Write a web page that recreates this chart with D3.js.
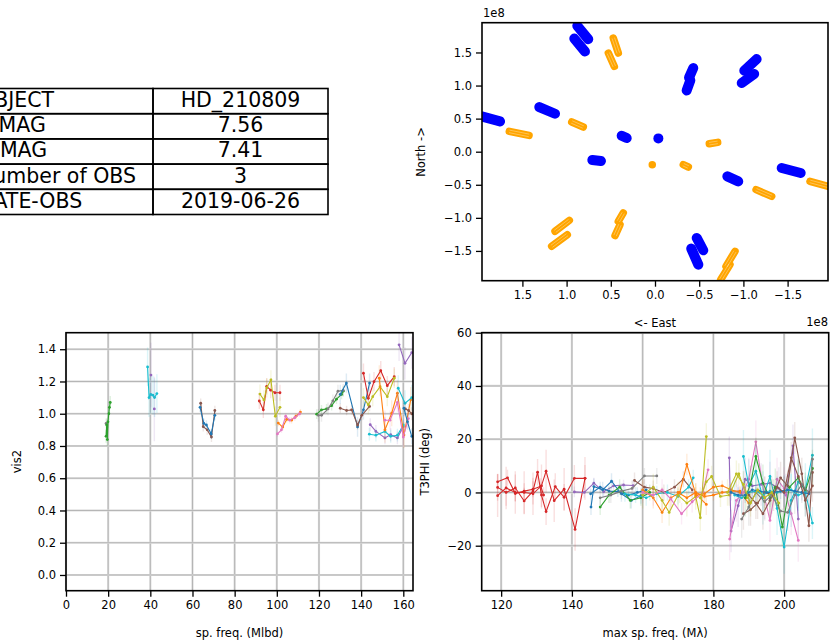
<!DOCTYPE html>
<html><head><meta charset="utf-8">
<script src="https://cdn.jsdelivr.net/npm/d3@7"></script>
<style>
body{margin:0;background:#fff}
svg{display:block}
text{font-family:"DejaVu Sans",sans-serif;fill:#000}
</style>
</head><body>
<svg id="c" width="832" height="643"></svg>
<script>
// ---------------- DATA ----------------
const tableLabels = ["OBJECT", "V MAG", "H MAG", "Number of OBS", "DATE-OBS"];
const tableValues = ["HD_210809", "7.56", "7.41", "3", "2019-06-26"];

// UV tracks (units of 1e8): [u start, v start, u end, v end]
const uvBlue = [
  [0.879, 1.903, 0.755, 1.700], [0.913, 1.710, 0.792, 1.515],
  [-0.433, 1.264, -0.385, 1.120], [-0.400, 1.080, -0.358, 0.926],
  [-1.150, 1.400, -1.010, 1.225], [-1.122, 1.175, -0.981, 1.038],
  [1.960, 0.533, 1.753, 0.458], [1.309, 0.675, 1.131, 0.574],
  [0.377, 0.242, 0.320, 0.206], [-0.038, 0.201, -0.038, 0.201],
  [0.709, -0.126, 0.611, -0.141], [-0.818, -0.373, -0.942, -0.449],
  [-1.433, -0.246, -1.648, -0.322],
  [-0.472, -1.304, -0.546, -1.490], [-0.410, -1.465, -0.490, -1.707]
];
const uvOrange = [
  [0.472, 1.718, 0.415, 1.491], [0.528, 1.491, 0.460, 1.289],
  [1.648, 0.307, 1.425, 0.246], [0.942, 0.449, 0.811, 0.373],
  [0.031, -0.196, 0.031, -0.196], [-0.320, -0.196, -0.377, -0.231],
  [-0.614, 0.121, -0.709, 0.141], [-1.143, -0.574, -1.320, -0.675],
  [-1.753, -0.449, -1.960, -0.524],
  [0.359, -0.926, 0.415, -1.053], [0.396, -1.103, 0.452, -1.269],
  [0.969, -1.038, 1.131, -1.204], [0.992, -1.254, 1.169, -1.430],
  [-0.905, -1.506, -0.803, -1.733], [-0.848, -1.707, -0.743, -1.934]
];
const uvTicks = [1.5, 1.0, 0.5, 0.0, -0.5, -1.0, -1.5];

// vis2 vs spatial frequency (Mlbd): colour index (tab10), error, points [freq, vis2]
const vis2Series = [
  {c: 7, err: 0.03, pts: [[19.0, 0.94]]},
  {c: 2, err: 0.04, pts: [[19.0, 0.86], [19.3, 0.93], [19.6, 0.84], [19.9, 0.95], [20.3, 1.0], [20.6, 1.04], [21.0, 1.07]]},
  {c: 9, err: 0.12, pts: [[38.7, 1.29], [39.4, 1.10], [40.2, 1.12], [41.2, 1.115], [42.0, 1.10], [43.1, 1.125]]},
  {c: 4, err: 0.2, pts: [[40.3, 1.24]]},
  {c: 4, err: 0.2, pts: [[41.9, 1.03]]},
  {c: 5, err: 0.03, pts: [[63.9, 1.065], [65.1, 0.92], [67.0, 0.90], [69.0, 0.855], [70.6, 1.02]]},
  {c: 0, err: 0.03, pts: [[63.6, 1.04], [65.4, 0.94], [66.6, 0.93], [68.9, 0.875], [70.6, 0.99]]},
  {c: 3, err: 0.05, pts: [[91.7, 1.079], [93.6, 1.024], [95.2, 1.17], [97.1, 1.146], [99.1, 1.13], [101.5, 1.13]]},
  {c: 8, err: 0.06, pts: [[92.0, 1.122], [93.9, 1.085], [95.2, 1.16], [97.2, 1.21], [99.3, 0.985], [101.5, 1.04]]},
  {c: 1, err: 0.02, pts: [[100.7, 0.942], [102.8, 0.917], [104.7, 0.965], [107.0, 0.96], [109.1, 0.985], [111.2, 1.01]]},
  {c: 6, err: 0.02, pts: [[100.3, 0.875], [102.2, 0.90], [104.2, 0.985], [106.1, 0.96], [108.5, 0.975], [110.8, 1.0]]},
  {c: 2, err: 0.03, pts: [[118.9, 0.997], [121.2, 1.024], [123.6, 1.03], [126.0, 1.05], [128.3, 1.09], [130.7, 1.12], [131.5, 1.14]]},
  {c: 7, err: 0.04, pts: [[119.7, 0.99], [121.2, 0.99], [124.3, 1.03], [126.6, 1.08], [129.0, 1.14], [131.5, 1.145]]},
  {c: 0, err: 0.06, pts: [[130.1, 1.12], [133.0, 1.19], [138.3, 0.918], [141.1, 1.024], [144.0, 1.19]]},
  {c: 5, err: 0.03, pts: [[130.1, 1.034], [133.1, 1.02], [135.5, 1.024], [138.3, 0.93], [140.3, 0.99], [144.0, 1.045]]},
  {c: 3, err: 0.06, pts: [[141.1, 1.251], [143.4, 1.096], [146.1, 1.199], [149.3, 1.267], [152.4, 1.174], [155.7, 1.23]]},
  {c: 8, err: 0.06, pts: [[141.1, 1.1], [143.4, 1.055], [145.5, 1.106], [149.0, 1.168], [152.4, 1.106], [155.7, 1.22]]},
  {c: 4, err: 0.04, pts: [[144.3, 0.932], [147.0, 0.89], [151.3, 0.85], [154.0, 0.87], [157.2, 0.85], [160.0, 0.92]]},
  {c: 9, err: 0.04, pts: [[143.9, 0.873], [147.0, 0.867], [151.3, 0.89], [154.0, 0.86], [157.2, 0.867], [160.0, 0.93]]},
  {c: 1, err: 0.08, pts: [[148.6, 1.22], [151.3, 0.90], [154.5, 1.003], [157.2, 1.127], [160.3, 0.868], [163.5, 1.086]]},
  {c: 6, err: 0.06, pts: [[151.3, 0.96], [153.7, 0.96], [157.2, 1.07], [160.0, 0.855], [162.4, 0.97]]},
  {c: 4, err: 0.1, pts: [[158.0, 1.427], [160.8, 1.313], [164.0, 1.379]]},
  {c: 9, err: 0.08, pts: [[157.6, 1.158], [160.8, 1.065], [164.0, 1.10]]},
  {c: 5, err: 0.04, pts: [[161.0, 1.03], [162.5, 1.02], [164.0, 1.0]]},
  {c: 0, err: 0.05, pts: [[160.3, 1.034], [162.0, 0.95], [164.0, 0.86]]}
];
const vis2XTicks = [0, 20, 40, 60, 80, 100, 120, 140, 160];
const vis2YTicks = [0.0, 0.2, 0.4, 0.6, 0.8, 1.0, 1.2, 1.4];

// closure phase vs max spatial frequency (Mlambda): colour index, error, points [freq, deg]
const t3Series = [
  {c: 3, err: 3, pts: [[119, 4], [121.8, 5.5], [124, -0.4], [126.5, 0.5], [129, 1.2], [131.2, 2.3], [132, -1]]},
  {c: 3, err: 5, pts: [[119, 1.9], [121.4, 0], [124, 1.7], [126.5, -3.2], [129, 0.5], [130.3, 7.6], [131.4, -1], [132.7, -7.2], [135.3, 2.2], [137.8, -1.8], [140.7, 5.3], [143.7, 5.3]]},
  {c: 3, err: 8, pts: [[119, -1.2], [121.4, 1.7], [124, 0], [126.5, 0], [129, -0.5], [131.4, 2.5], [132.7, 8.0], [135, -3.1], [137.8, 1.2], [140.9, -13.9], [143.7, 5.3]]},
  {c: 4, err: 2, pts: [[140.7, 0.2], [143.5, 0], [146.2, 3.5], [149, 0.3], [151.8, 2.5], [154.6, 2.8], [157.3, 2.6]]},
  {c: 0, err: 3, pts: [[145.4, -5.5], [146.2, 2.2], [148.7, 1.0], [151.2, 4.2], [154, -0.5], [156.8, -3.0], [159.5, -1.2]]},
  {c: 0, err: 2, pts: [[145.3, -0.5], [148, 2], [150.5, 0.5], [153, 0.3], [156, -1], [158.5, 0], [161, 1]]},
  {c: 2, err: 3, pts: [[148, -5.5], [150.5, -1], [153.5, 2], [156.5, -3], [159.5, -2], [162, 0]]},
  {c: 7, err: 3, pts: [[148, -2], [151, -1], [154, 0.5], [157, 1.5], [160.5, 6.2], [164, 6.2]]},
  {c: 5, err: 3, pts: [[157.7, 4.5], [160.5, 2], [163, 1.5], [166, 0], [169, 2], [171.5, 5], [174, 1]]},
  {c: 9, err: 3, pts: [[155, -0.5], [158, -1], [161, -2], [164, -0.5], [167, 0], [170, -1.5], [173, 2], [174.3, 5.5]]},
  {c: 1, err: 4, pts: [[160, 1], [163, -2], [165.5, -7.5], [168, -2], [170.5, 0], [172.5, 10.5], [175, -0.5], [178, -4.5]]},
  {c: 8, err: 5, pts: [[160, -1], [163, 2], [165.5, -3], [167.5, -7.5], [170, -1], [172.5, -4], [175, -1.5], [176.3, -9.5], [178, 21]]},
  {c: 6, err: 4, pts: [[160, 0], [163, -1], [165.5, 1], [168, -2.5], [171, -8], [174, -3.5], [177, 0], [178.5, 8.5]]},
  {c: 1, err: 2, pts: [[170, 0], [172.5, -2], [175, 0], [177.5, -1.5], [180, -1], [182.5, 0], [185, 0.5], [187.5, 0.5]]},
  {c: 1, err: 2, pts: [[175, -1], [177.5, -0.5], [180, 2], [182.5, 2.5], [185, 1], [187.5, 0], [190, -4]]},
  {c: 8, err: 4, pts: [[176.3, -2], [178, 4], [179.5, 6], [182, -1.5], [184.5, -1], [187.2, 7], [189.5, -2]]},
  {c: 4, err: 8, pts: [[184.5, 13], [185, -14.5], [187, -5], [189, 5], [191, 2.5], [193.5, 3], [196, 3.5], [198.5, 1.5], [200.5, -1], [202.5, 17.5], [204, -10]]},
  {c: 6, err: 8, pts: [[184.6, -17.5], [186.5, -3], [188.5, 0], [190, 5], [192, 19], [194.5, -2], [196, -10.5], [198, 5], [200, 1.5], [202, -8], [204, -18]]},
  {c: 9, err: 10, pts: [[188.5, 13.5], [190, 2.5], [192, 8], [194, -2], [196, 6], [198, -6], [200, -20.5], [202, -3], [204, 4], [206, 1], [208, 14]]},
  {c: 2, err: 7, pts: [[189, -2], [190.5, 3], [192, 13.5], [194, 3.5], [196, -2], [197.5, 2], [199.5, -13], [201.5, 2], [204, 5.5], [206, 0.5], [208, 9]]},
  {c: 5, err: 6, pts: [[188.5, -8], [190.5, -6.5], [192.5, -4], [194.5, 0], [197, -1], [199, 5.5], [201, 2.5], [203, 20.5], [205, 7], [207, -12.5], [208, 7.5]]},
  {c: 7, err: 7, pts: [[188, -10], [190, -5.5], [192, 0], [194.5, -3.5], [196.5, -1], [199, -7], [201, -7.5], [203, -1], [205, 3], [207, 0], [208, 12.5]]},
  {c: 9, err: 6, pts: [[186, -1], [188, -2], [190, 0], [192, 0.5], [194, -1], [196, 0.5], [198, 0], [200, 0.5], [202, 1], [204, -1], [206, 0], [208, -11.5]]},
  {c: 0, err: 3, pts: [[185, 0], [187, -1], [189, -1], [191, 1], [193, 0.5], [195, 0], [197, 0], [199, 0.5], [201, 1], [203, 0.5], [205, 0], [207, -0.5]]},
  {c: 5, err: 6, pts: [[190, -1], [192, -4], [194, -8], [196, -3], [198, 2], [200, 0], [202, 13], [204, 6], [206, -3], [208, 2.5]]},
  {c: 8, err: 5, pts: [[184, 0], [186.5, 7], [188.5, 3], [190.5, -4], [192.5, 1], [194.5, -2], [196.5, 0], [198.5, -4]]}
];
const t3XTicks = [120, 140, 160, 180, 200];
const t3YTicks = [-20, 0, 20, 40, 60];

// ---------------- DRAWING ----------------
const svg = d3.select("#c");
svg.append("rect").attr("width", 832).attr("height", 643).attr("fill", "#fff");
const tab10 = d3.schemeCategory10;
const FS = 11.5;

function makePanel(id, box, xs, ys, xTicks, yTicks, xFmt, yFmt, withGrid) {
  const g = svg.append("g");
  svg.append("clipPath").attr("id", id).append("rect")
    .attr("x", box.x0).attr("y", box.y0).attr("width", box.x1 - box.x0).attr("height", box.y1 - box.y0);
  if (withGrid) {
    const gg = g.append("g");
    xTicks.forEach(t => {
      gg.append("line").attr("x1", xs(t)).attr("x2", xs(t)).attr("y1", box.y0).attr("y2", box.y1)
        .attr("stroke", "#dcdcdc").attr("stroke-width", 2.2);
      gg.append("line").attr("x1", xs(t)).attr("x2", xs(t)).attr("y1", box.y0).attr("y2", box.y1)
        .attr("stroke", "#b0b0b0").attr("stroke-width", 0.9);
    });
    yTicks.forEach(t => {
      gg.append("line").attr("y1", ys(t)).attr("y2", ys(t)).attr("x1", box.x0).attr("x2", box.x1)
        .attr("stroke", "#dcdcdc").attr("stroke-width", 2.2);
      gg.append("line").attr("y1", ys(t)).attr("y2", ys(t)).attr("x1", box.x0).attr("x2", box.x1)
        .attr("stroke", "#b0b0b0").attr("stroke-width", 0.9);
    });
  }
  const data = g.append("g").attr("clip-path", `url(#${id})`);
  const ax = g.append("g");
  const xa = ax.append("g").attr("transform", `translate(0,${box.y1})`)
    .call(d3.axisBottom(xs).tickValues(xTicks).tickFormat(xFmt).tickSize(6).tickPadding(4));
  const ya = ax.append("g").attr("transform", `translate(${box.x0},0)`)
    .call(d3.axisLeft(ys).tickValues(yTicks).tickFormat(yFmt).tickSize(6).tickPadding(4));
  [xa, ya].forEach(a => {
    a.select(".domain").remove();
    a.selectAll(".tick line").attr("stroke", "#000").attr("stroke-width", 1.3);
    a.selectAll(".tick text").attr("font-size", FS).attr("font-family", "DejaVu Sans").attr("fill", "#000");
  });
  ax.append("rect").attr("x", box.x0).attr("y", box.y0).attr("width", box.x1 - box.x0).attr("height", box.y1 - box.y0)
    .attr("fill", "none").attr("stroke", "#000").attr("stroke-width", 1.6);
  return data;
}

// ---- Table ----
const tb = {x0: -60, xm: 153, x1: 328, y0: 88.5, rh: 25.2};
const tg = svg.append("g");
tableLabels.forEach((lab, i) => {
  const y = tb.y0 + i * tb.rh;
  tg.append("rect").attr("x", tb.x0).attr("y", y).attr("width", tb.xm - tb.x0).attr("height", tb.rh)
    .attr("fill", "none").attr("stroke", "#000").attr("stroke-width", 1.6);
  tg.append("rect").attr("x", tb.xm).attr("y", y).attr("width", tb.x1 - tb.xm).attr("height", tb.rh)
    .attr("fill", "none").attr("stroke", "#000").attr("stroke-width", 1.6);
  tg.append("text").attr("x", -22).attr("y", y + tb.rh / 2 + 5.8).attr("font-size", 20.5).text(lab);
  tg.append("text").attr("x", (tb.xm + tb.x1) / 2).attr("y", y + tb.rh / 2 + 5.8).attr("font-size", 20.5)
    .attr("text-anchor", "middle").text(tableValues[i]);
});

// ---- UV coverage ----
const uvBox = {x0: 482, x1: 828, y0: 22.7, y1: 280.7};
const ux = d3.scaleLinear().domain([1.957, -1.957]).range([uvBox.x0, uvBox.x1]);
const vy = d3.scaleLinear().domain([-1.95, 1.95]).range([uvBox.y1, uvBox.y0]);
const fmt1 = d3.format(".1f");
const uvData = makePanel("clipUV", uvBox, ux, vy, uvTicks, uvTicks, fmt1, fmt1, false);
uvData.selectAll("line.b").data(uvBlue).join("line").attr("class", "b")
  .attr("x1", d => ux(d[0])).attr("y1", d => vy(d[1])).attr("x2", d => ux(d[2])).attr("y2", d => vy(d[3]))
  .attr("stroke", "#0000ff").attr("stroke-width", 10).attr("stroke-linecap", "round");
uvData.selectAll("line.o").data(uvOrange).join("line").attr("class", "o")
  .attr("x1", d => ux(d[0])).attr("y1", d => vy(d[1])).attr("x2", d => ux(d[2])).attr("y2", d => vy(d[3]))
  .attr("stroke", "#ffa500").attr("stroke-width", 7.5).attr("stroke-linecap", "round");
// faint stripes inside orange tracks (rows of channel points)
[-1.3, 1.3].forEach(off => {
  uvData.selectAll(null).data(uvOrange.filter(d => d[0] !== d[2] || d[1] !== d[3])).join("line")
    .each(function(d) {
      const x1 = ux(d[0]), y1 = vy(d[1]), x2 = ux(d[2]), y2 = vy(d[3]);
      const L = Math.hypot(x2 - x1, y2 - y1), nx = -(y2 - y1) / L * off, ny = (x2 - x1) / L * off;
      d3.select(this).attr("x1", x1 + nx).attr("y1", y1 + ny).attr("x2", x2 + nx).attr("y2", y2 + ny);
    })
    .attr("stroke", "#fff").attr("stroke-opacity", 0.55).attr("stroke-width", 0.6);
});
svg.append("text").attr("x", 483).attr("y", 17).attr("font-size", FS).text("1e8");
svg.append("text").attr("x", 828).attr("y", 326).attr("font-size", FS).attr("text-anchor", "end").text("1e8");
svg.append("text").attr("x", 655).attr("y", 327).attr("font-size", FS).attr("text-anchor", "middle").text("<- East");
svg.append("text").attr("transform", "translate(425,152) rotate(-90)").attr("font-size", FS)
  .attr("text-anchor", "middle").text("North ->");

// ---- series drawer ----
function drawSeries(dataG, series, xs, ys) {
  const line = d3.line().x(d => xs(d[0])).y(d => ys(d[1]));
  series.forEach(s => {
    const col = tab10[s.c];
    const sg = dataG.append("g");
    sg.selectAll("line").data(s.pts).join("line")
      .attr("x1", d => xs(d[0])).attr("x2", d => xs(d[0]))
      .attr("y1", d => ys(d[1] - s.err)).attr("y2", d => ys(d[1] + s.err))
      .attr("stroke", col).attr("stroke-opacity", 0.15).attr("stroke-width", 1.4);
    sg.append("path").attr("d", line(s.pts)).attr("fill", "none").attr("stroke", col).attr("stroke-width", 1.1);
    sg.selectAll("circle").data(s.pts).join("circle")
      .attr("cx", d => xs(d[0])).attr("cy", d => ys(d[1])).attr("r", 1.4).attr("fill", col);
  });
}

// ---- vis2 ----
const v2Box = {x0: 66, x1: 413, y0: 332.7, y1: 590.7};
const v2x = d3.scaleLinear().domain([0, 164.6]).range([v2Box.x0, v2Box.x1]);
const v2y = d3.scaleLinear().domain([-0.0975, 1.5025]).range([v2Box.y1, v2Box.y0]);
const v2Data = makePanel("clipV2", v2Box, v2x, v2y, vis2XTicks, vis2YTicks, d3.format("d"), fmt1, true);
drawSeries(v2Data, vis2Series, v2x, v2y);
svg.append("text").attr("x", (v2Box.x0 + v2Box.x1) / 2).attr("y", 637).attr("font-size", FS)
  .attr("text-anchor", "middle").text("sp. freq. (Mlbd)");
svg.append("text").attr("transform", `translate(21,${(v2Box.y0 + v2Box.y1) / 2}) rotate(-90)`).attr("font-size", FS)
  .attr("text-anchor", "middle").text("vis2");

// ---- T3PHI ----
const t3Box = {x0: 481.7, x1: 828.7, y0: 332.7, y1: 590.7};
const t3x = d3.scaleLinear().domain([114.5, 212.6]).range([t3Box.x0, t3Box.x1]);
const t3y = d3.scaleLinear().domain([-36.9, 60]).range([t3Box.y1, t3Box.y0]);
const t3Data = makePanel("clipT3", t3Box, t3x, t3y, t3XTicks, t3YTicks, d3.format("d"), d3.format("d"), true);
drawSeries(t3Data, t3Series, t3x, t3y);
svg.append("text").attr("x", (t3Box.x0 + t3Box.x1) / 2).attr("y", 637).attr("font-size", FS)
  .attr("text-anchor", "middle").text("max sp. freq. (Mλ)");
svg.append("text").attr("transform", `translate(429,${(t3Box.y0 + t3Box.y1) / 2}) rotate(-90)`).attr("font-size", FS)
  .attr("text-anchor", "middle").text("T3PHI (deg)");
</script>
</body></html>
